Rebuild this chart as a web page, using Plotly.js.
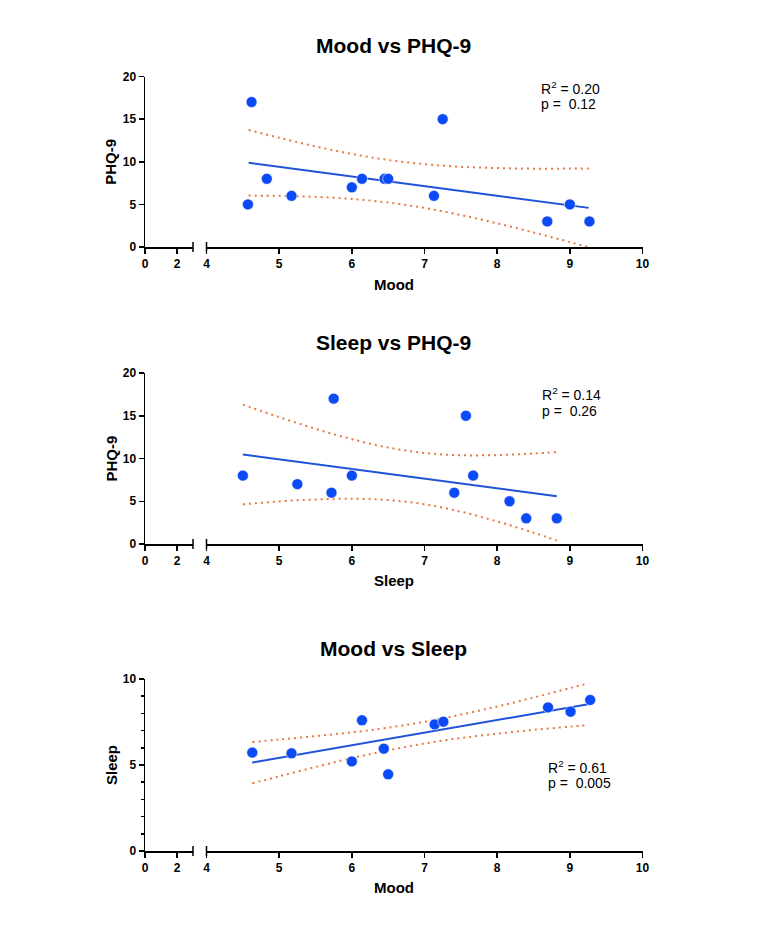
<!DOCTYPE html>
<html>
<head>
<meta charset="utf-8">
<script src="https://cdn.plot.ly/plotly-3.0.1.min.js"></script>
<style>
  html, body { margin: 0; padding: 0; background: #ffffff; }
  #chart { width: 771px; height: 928px; }
</style>
</head>
<body>
<div id="chart"></div>
<script>
// ---------- Data ----------
// Panel 1: Mood vs PHQ-9
var mood1 = [4.57, 4.62, 4.83, 5.17, 6.00, 6.14, 6.45, 6.50, 7.13, 7.25, 8.69, 9.00, 9.27];
var phq1  = [5, 17, 8, 6, 7, 8, 8, 8, 6, 15, 3, 5, 3];
var fit1X = [4.58, 9.26];
var fit1Y = [9.88, 4.59];
var ci1X  = [4.58, 5.0, 5.5, 6.0, 6.5, 7.0, 7.5, 8.0, 8.5, 9.0, 9.26];
var ci1Up = [13.73, 12.82, 11.80, 10.92, 10.21, 9.72, 9.41, 9.26, 9.19, 9.20, 9.22];
var ci1Lo = [6.03, 6.00, 5.88, 5.64, 5.21, 4.58, 3.75, 2.78, 1.71, 0.58, -0.04];
var stat1 = ["R<sup>2</sup> = 0.20", "p =\u00a0 0.12"];

// Panel 2: Sleep vs PHQ-9
var sleep2 = [4.50, 5.25, 5.72, 5.75, 6.00, 7.41, 7.57, 7.67, 8.17, 8.40, 8.82];
var phq2   = [8, 7, 6, 17, 8, 6, 15, 8, 5, 3, 3];
var fit2X  = [4.50, 8.82];
var fit2Y  = [10.47, 5.58];
var ci2X   = [4.5, 5.0, 5.5, 6.0, 6.5, 7.0, 7.5, 8.0, 8.5, 8.82];
var ci2Up  = [16.30, 14.84, 13.47, 12.26, 11.28, 10.65, 10.38, 10.40, 10.58, 10.75];
var ci2Lo  = [4.64, 4.98, 5.21, 5.30, 5.14, 4.65, 3.78, 2.64, 1.32, 0.41];
var stat2 = ["R<sup>2</sup> = 0.14", "p =\u00a0 0.26"];

// Panel 3: Mood vs Sleep
var mood3  = [4.63, 5.17, 6.00, 6.14, 6.44, 6.50, 7.14, 7.26, 8.70, 9.01, 9.28];
var sleep3 = [5.72, 5.68, 5.21, 7.60, 5.95, 4.46, 7.36, 7.52, 8.35, 8.10, 8.78];
var fit3X  = [4.63, 9.25];
var fit3Y  = [5.14, 8.53];
var ci3X   = [4.63, 5.0, 5.5, 6.0, 6.5, 7.0, 7.5, 8.0, 8.5, 9.0, 9.25];
var ci3Up  = [6.34, 6.48, 6.68, 6.90, 7.17, 7.51, 7.93, 8.40, 8.92, 9.47, 9.74];
var ci3Lo  = [3.94, 4.34, 4.88, 5.40, 5.85, 6.25, 6.57, 6.82, 7.04, 7.23, 7.32];
var stat3 = ["R<sup>2</sup> = 0.61", "p =\u00a0 0.005"];

// Titles / labels
var titles  = ["Mood vs PHQ-9", "Sleep vs PHQ-9", "Mood vs Sleep"];
var xTitles = ["Mood", "Sleep", "Mood"];
var yTitles = ["PHQ-9", "PHQ-9", "Sleep"];
var xTicksLow  = [0, 2];
var xTicksHigh = [4, 5, 6, 7, 8, 9, 10];

// ---------- Styling ----------
var W = 771, H = 928;
var FONT = 'Arial, "Liberation Sans", Helvetica, sans-serif';
var MARKER = '#0b4af5';
var FITC = '#1f52d8';
var CIC = '#e8783f';

function px(x) { return x / W; }
function py(y) { return 1 - y / H; }

// subplot geometry in pixels
var xSeg1 = [145, 193];
var xSeg2 = [206.5, 642.5];
var rows = [[76.5, 247], [373, 544], [679, 851]];
var titleY = [45, 342, 648];
var xTitleY = [284, 580, 887];
var statPos = [[539, 88, 104], [540, 394, 410.5], [546, 766.5, 782.5]];

var panels = [
  {x: mood1, y: phq1, fx: fit1X, fy: fit1Y, cx: ci1X, cu: ci1Up, cl: ci1Lo, stat: stat1, yr: [0, 20], yt: [0, 5, 10, 15, 20], minor: false},
  {x: sleep2, y: phq2, fx: fit2X, fy: fit2Y, cx: ci2X, cu: ci2Up, cl: ci2Lo, stat: stat2, yr: [0, 20], yt: [0, 5, 10, 15, 20], minor: false},
  {x: mood3, y: sleep3, fx: fit3X, fy: fit3Y, cx: ci3X, cu: ci3Up, cl: ci3Lo, stat: stat3, yr: [0, 10], yt: [0, 5, 10], minor: true}
];

var traces = [];
var layout = {
  width: W, height: H,
  margin: {l: 0, r: 0, t: 0, b: 0},
  paper_bgcolor: '#ffffff',
  plot_bgcolor: 'rgba(0,0,0,0)',
  showlegend: false,
  font: {family: FONT, color: '#000000'},
  annotations: [],
  shapes: []
};

var tickFont = {family: FONT, size: 12, color: '#000000', weight: 'bold'};

panels.forEach(function (p, i) {
  var xa1 = 'xaxis' + (i === 0 ? '' : (i * 2 + 1));
  var xa2 = 'xaxis' + (i * 2 + 2);
  var xr1 = 'x' + (i === 0 ? '' : (i * 2 + 1));
  var xr2 = 'x' + (i * 2 + 2);
  var ya = 'yaxis' + (i === 0 ? '' : (i + 1));
  var yr = 'y' + (i === 0 ? '' : (i + 1));
  var r = rows[i];

  var axCommon = {
    showgrid: false, zeroline: false, showline: true,
    linecolor: '#000000', linewidth: 1.5,
    ticks: 'outside', ticklen: 5, tickwidth: 1.5, tickcolor: '#000000',
    tickfont: tickFont, automargin: false, fixedrange: true
  };

  layout[xa1] = Object.assign({}, axCommon, {
    domain: [px(xSeg1[0]), px(xSeg1[1])], range: [0, 3],
    tickmode: 'array', tickvals: xTicksLow, ticktext: xTicksLow.map(String),
    anchor: yr
  });
  layout[xa2] = Object.assign({}, axCommon, {
    domain: [px(xSeg2[0]), px(xSeg2[1])], range: [4, 10],
    tickmode: 'array', tickvals: xTicksHigh, ticktext: xTicksHigh.map(String),
    anchor: yr
  });
  var yaxis = Object.assign({}, axCommon, {
    domain: [py(r[1]), py(r[0])], range: p.yr,
    tickmode: 'array', tickvals: p.yt, ticktext: p.yt.map(String),
    anchor: xr1
  });
  if (p.minor) {
    yaxis.minor = {tickmode: 'linear', tick0: 0, dtick: 1, ticks: 'outside', ticklen: 3, tickwidth: 1.5, tickcolor: '#000000'};
  }
  layout[ya] = yaxis;

  // axis break caps
  layout.shapes.push({
    type: 'line', xref: xr1 + ' domain', yref: yr + ' domain',
    x0: 1, x1: 1, ysizemode: 'pixel', yanchor: 0, y0: -5, y1: 5,
    line: {color: '#000000', width: 1.5}
  });
  layout.shapes.push({
    type: 'line', xref: xr2 + ' domain', yref: yr + ' domain',
    x0: 0, x1: 0, ysizemode: 'pixel', yanchor: 0, y0: -5, y1: 5,
    line: {color: '#000000', width: 1.5}
  });

  // empty trace so the left (0-3) segment subplot is created
  traces.push({x: [], y: [], xaxis: xr1, yaxis: yr, type: 'scatter', mode: 'markers', hoverinfo: 'skip'});

  // CI bands
  traces.push({x: p.cx, y: p.cu, xaxis: xr2, yaxis: yr, type: 'scatter', mode: 'lines',
    line: {color: CIC, width: 2, dash: '2px,4px', shape: 'spline'}, hoverinfo: 'skip'});
  traces.push({x: p.cx, y: p.cl, xaxis: xr2, yaxis: yr, type: 'scatter', mode: 'lines',
    line: {color: CIC, width: 2, dash: '2px,4px', shape: 'spline'}, hoverinfo: 'skip'});
  // fit
  traces.push({x: p.fx, y: p.fy, xaxis: xr2, yaxis: yr, type: 'scatter', mode: 'lines',
    line: {color: FITC, width: 2}, hoverinfo: 'skip'});
  // points
  traces.push({x: p.x, y: p.y, xaxis: xr2, yaxis: yr, type: 'scatter', mode: 'markers',
    marker: {color: MARKER, size: 11, line: {color: '#ffffff', width: 0.6}}, cliponaxis: false});

  // chart title
  layout.annotations.push({
    text: titles[i], xref: 'paper', yref: 'paper',
    x: px((xSeg1[0] + xSeg2[1]) / 2), y: py(titleY[i]),
    xanchor: 'center', yanchor: 'middle', showarrow: false,
    font: {family: FONT, size: 21, color: '#000000', weight: 'bold'}
  });
  // x title
  layout.annotations.push({
    text: xTitles[i], xref: 'paper', yref: 'paper',
    x: px((xSeg1[0] + xSeg2[1]) / 2), y: py(xTitleY[i]),
    xanchor: 'center', yanchor: 'middle', showarrow: false,
    font: {family: FONT, size: 15, color: '#000000', weight: 'bold'}
  });
  // y title
  layout.annotations.push({
    text: yTitles[i], xref: 'paper', yref: 'paper',
    x: px(111), y: py((r[0] + r[1]) / 2),
    xanchor: 'center', yanchor: 'middle', showarrow: false, textangle: -90,
    font: {family: FONT, size: 15, color: '#000000', weight: 'bold'}
  });
  // stats
  var sp = statPos[i];
  layout.annotations.push({
    text: p.stat[0], xref: 'paper', yref: 'paper',
    x: px(sp[0]), y: py(sp[1]), xanchor: 'left', yanchor: 'middle', showarrow: false,
    font: {family: FONT, size: 14, color: '#000000'}
  });
  layout.annotations.push({
    text: p.stat[1], xref: 'paper', yref: 'paper',
    x: px(sp[0]), y: py(sp[2]), xanchor: 'left', yanchor: 'middle', showarrow: false,
    font: {family: FONT, size: 14, color: '#000000'}
  });
});

Plotly.newPlot('chart', traces, layout, {staticPlot: true, displayModeBar: false});
</script>
</body>
</html>
